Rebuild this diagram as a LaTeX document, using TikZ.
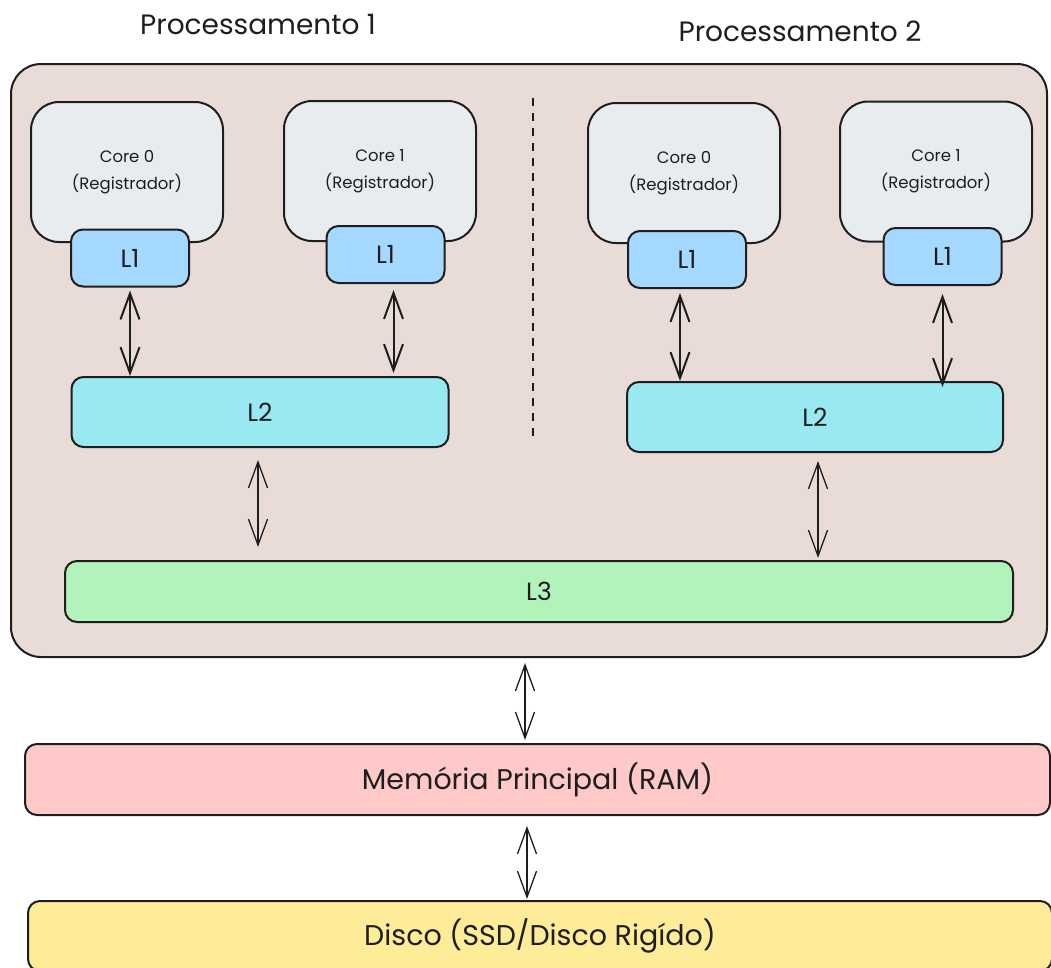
\documentclass[tikz,border=0pt]{standalone}
\usepackage{fontspec}
\setmainfont{Poppins}
\usetikzlibrary{arrows.meta}
\definecolor{ink}{HTML}{1E1E1E}
\definecolor{outerfill}{HTML}{E9DCD7}
\definecolor{corefill}{HTML}{E9ECEF}
\definecolor{lonefill}{HTML}{A5D8FF}
\definecolor{ltwofill}{HTML}{99E9F2}
\definecolor{lthreefill}{HTML}{B2F2BB}
\definecolor{ramfill}{HTML}{FFC9C9}
\definecolor{diskfill}{HTML}{FFEC99}
\tikzset{
  box/.style={draw=ink, line width=2pt, rounded corners=12pt, inner sep=0pt, text=ink},
  corebox/.style={box, fill=corefill, rounded corners=28pt, minimum width=192pt, minimum height=140pt,
    align=center, font=\fontsize{16.5}{27}\selectfont},
  lonebox/.style={box, fill=lonefill, minimum width=118pt, minimum height=57pt, font=\fontsize{25}{28}\selectfont},
  ltwobox/.style={box, fill=ltwofill, minimum width=377pt, minimum height=70pt, font=\fontsize{25}{28}\selectfont},
  wide/.style={box, font=\fontsize{28.5}{32}\selectfont},
  title/.style={text=ink, font=\fontsize{28}{32}\selectfont},
  bigarrow/.style={draw=ink, line width=2pt, {Straight Barb[length=26pt,width=19pt]}-{Straight Barb[length=26pt,width=19pt]}},
  thinarrow/.style={draw=ink, line width=1.3pt, {Straight Barb[length=26pt,width=19pt]}-{Straight Barb[length=26pt,width=19pt]}},
  divider/.style={draw=ink, line width=2pt, dash pattern=on 8pt off 7pt}
}
\begin{document}
\begin{tikzpicture}[x=1pt,y=-1pt]
\useasboundingbox (0,0) rectangle (1051,967);
\fill[white] (0,0) rectangle (1051,967);
\clip (0,0) rectangle (1051,967);

% titles
\node[title] (t1) at (258,25) {Processamento 1};
\node[title] (t2) at (800,31) {Processamento 2};

% outer processor box
\node[box, fill=outerfill, rounded corners=30pt, minimum width=1036pt, minimum height=593pt] (outer) at (529,360.5) {};

% divider
\coordinate (dtop) at (533,98);
\coordinate (dbot) at (533,437);
\draw[divider] (dtop) -- (dbot);

% processor 1
\node[corebox] (c0a) at (127,172) {Core 0\\(Registrador)};
\node[lonebox] (l1a) at (130,258) {L1};
\node[corebox] (c1a) at (380,171) {Core 1\\(Registrador)};
\node[lonebox] (l1b) at (385.5,254.5) {L1};
\node[ltwobox] (l2a) at (260,412) {L2};

% processor 2
\node[corebox] (c0b) at (684,173) {Core 0\\(Registrador)};
\node[lonebox] (l1c) at (687,259.5) {L1};
\node[corebox] (c1b) at (936,171.5) {Core 1\\(Registrador)};
\node[lonebox] (l1d) at (942.5,256.5) {L1};
\node[ltwobox, minimum width=376pt] (l2b) at (815,417) {L2};

% L3
\node[box, fill=lthreefill, minimum width=948pt, minimum height=61pt, font=\fontsize{25}{28}\selectfont] (l3) at (539,591.5) {L3};

% memory and disk
\node[wide, fill=ramfill, minimum width=1025pt, minimum height=71pt] (ram) at (537.5,779.5) {Memória Principal (RAM)};
\node[wide, fill=diskfill, minimum width=1024pt, minimum height=70pt] (disk) at (540,936) {Disco (SSD/Disco Rigído)};

% L1 <-> L2
\draw[bigarrow, shorten <=3pt] (l1a.south) -- (l1a.south |- l2a.north);
\draw[bigarrow, shorten <=6pt, shorten >=3pt] ([xshift=8pt]l1b.south) -- ([xshift=8pt]l1b.south |- l2a.north);
\draw[bigarrow, shorten <=4pt] ([xshift=-7pt]l1c.south) -- ([xshift=-7pt]l1c.south |- l2b.north);
\draw[bigarrow, shorten <=8pt, shorten >=-6pt] (l1d.south) -- (l1d.south |- l2b.north);

% L2 <-> L3
\draw[thinarrow, shorten <=12pt, shorten >=13pt] ([xshift=-2pt]l2a.south) -- ([xshift=-2pt]l2a.south |- l3.north);
\draw[thinarrow, shorten <=8pt, shorten >=2pt] ([xshift=3pt]l2b.south) -- ([xshift=3pt]l2b.south |- l3.north);

% outer <-> RAM <-> disk
\draw[thinarrow, shorten <=5pt, shorten >=3pt] ([xshift=-4pt]outer.south) -- ([xshift=-4pt]outer.south |- ram.north);
\draw[thinarrow, shorten <=10pt, shorten >=1pt] ([xshift=-10.5pt]ram.south) -- ([xshift=-10.5pt]ram.south |- disk.north);
\end{tikzpicture}
\end{document}
